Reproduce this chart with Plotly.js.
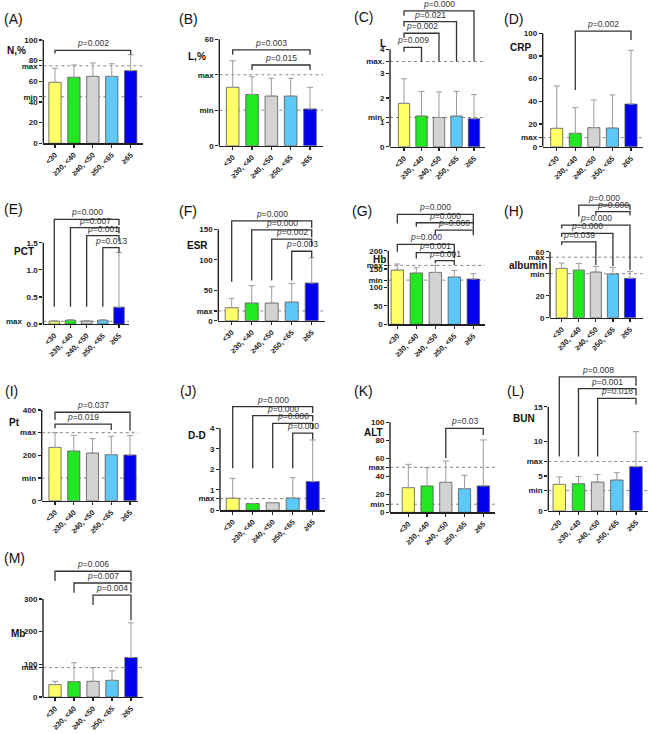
<!DOCTYPE html>
<html><head><meta charset="utf-8">
<script src="https://cdn.plot.ly/plotly-3.0.1.min.js"></script>
<style>html,body{margin:0;padding:0;background:#fff}#chart{width:650px;height:734px}</style>
</head><body><div id="chart"></div>
<script>
const categories = ['<30', '≥30, <40', '≥40, <50', '≥50, <65', '≥65'];
const barColors = ['#FFFF66', '#22E822', '#D3D3D3', '#5EC8F8', '#0000EE'];

// means and upper SD per panel
const meanA = [59, 63.9, 64.8, 64.8, 70.3];  const sdA = [13.6, 11.9, 12.9, 12.2, 15.5];
const meanB = [32.9, 28.9, 28, 28, 20.7];    const sdB = [15, 10, 10, 10, 12.2];
const meanC = [1.78, 1.26, 1.2, 1.26, 1.15]; const sdC = [1.01, 1.01, 1.05, 1.01, 0.99];
const meanD = [16.2, 11.8, 16.8, 16.5, 37.6]; const sdD = [37.3, 22.6, 24.4, 29.1, 47.4];
const meanE = [0.05, 0.07, 0.055, 0.07, 0.31]; const sdE = [0.01, 0.01, 0.01, 0.01, 1.01];
const meanF = [21.3, 29, 29, 30.6, 61.8];    const sdF = [15.4, 28.5, 26.8, 30.2, 41.6];
const meanG = [147.5, 139.4, 141, 128.5, 123]; const sdG = [16.3, 14.4, 19, 18.1, 14.5];
const meanH = [44.8, 43.3, 41.5, 39.7, 35.8]; const sdH = [4.9, 6.1, 5.2, 6.1, 6.3];
const meanI = [235, 219, 210, 203, 201.5];   const sdI = [65, 69, 63.5, 81, 85.5];
const meanJ = [0.59, 0.33, 0.37, 0.6, 1.4];  const sdJ = [0.97, 0.01, 0.01, 0.99, 2.03];
const meanK = [27.4, 29.3, 33.3, 26.3, 29.3]; const sdK = [25.9, 20.3, 23.7, 14.7, 51.1];
const meanL = [3.8, 3.9, 4.13, 4.42, 6.35];  const sdL = [1.06, 1.05, 1.07, 1.06, 5.05];
const meanM = [38, 47, 48, 51, 121];         const sdM = [10, 58, 42, 29, 106];

// reference lines
const refA = [75, 45]; const refB = [40, 20]; const refC = [3.5, 1.2]; const refD = [8];
const refE = [0.05]; const refF = [16]; const refG = [160, 120]; const refH = [55, 40];
const refI = [300, 100]; const refJ = [0.57]; const refK = [50, 9]; const refL = [7.1, 2.9]; const refM = [90];

// y ticks
const tvA = [0, 20, 40, 45, 60, 75, 80, 100]; const ttA = ['0', '20', '40', 'min', '60', 'max', '80', '100'];
const tvB = [0, 20, 40, 60]; const ttB = ['0', 'min', 'max', '60'];
const tvC = [0, 1, 1.2, 2, 3, 3.5, 4]; const ttC = ['0', '1', 'min.', '2', '3', 'max.', '4'];
const tvD = [0, 8, 20, 40, 60, 80, 100]; const ttD = ['0', 'max', '20', '40', '60', '80', '100'];
const tvE = [0, 0.5, 1, 1.5]; const ttE = ['0.0', '0.5', '1.0', '1.5'];
const tvF = [0, 16, 50, 100, 150]; const ttF = ['0', 'max', '50', '100', '150'];
const tvG = [0, 50, 100, 120, 150, 160, 200]; const ttG = ['0', '50', '100', 'min', '150', 'max', '200'];
const tvH = [0, 20, 40, 55, 60]; const ttH = ['0', '20', 'min', 'max', '60'];
const tvI = [0, 100, 200, 300, 400]; const ttI = ['0', 'min', '200', 'max', '400'];
const tvJ = [0, 0.57, 1, 2, 3, 4]; const ttJ = ['0', 'max', '1', '2', '3', '4'];
const tvK = [0, 9, 20, 40, 50, 60, 80, 100]; const ttK = ['0', 'min', '20', '40', 'max', '60', '80', '100'];
const tvL = [0, 2.9, 5, 7.1, 10, 15]; const ttL = ['0', 'min', '5', 'max', '10', '15'];
const tvM = [0, 90, 100, 200, 300]; const ttM = ['0', 'max', '100', '200', '300'];

// significance brackets: [from, to, height, leftLegEnd, rightLegEnd, p]
const brA = [[0, 4, 90, 87, 86, '0.002']];
const brB = [[0, 4, 54, 51.3, 51.3, '0.003'], [1, 4, 45.5, 42.7, 42.7, '0.015']];
const brC = [[0, 4, 5.58, 5.38, 3.5, '0.000'], [0, 3, 5.14, 4.94, 3.5, '0.021'], [0, 2, 4.66, 4.46, 3.5, '0.002'], [0, 1, 4.08, 3.9, 3.5, '0.009']];
const brD = [[1, 4, 102, 50, 94, '0.002']];
const brE = [[0, 4, 1.93, 0.32, 1.82, '0.000'], [1, 4, 1.78, 0.32, 1.67, '0.007'], [2, 4, 1.63, 0.32, 1.52, '0.001'], [3, 4, 1.41, 0.32, 1.32, '0.013']];
const brF = [[0, 4, 163.7, 64, 152, '0.000'], [1, 4, 148.9, 66, 137, '0.000'], [2, 4, 134, 66, 122, '0.002'], [3, 4, 114, 66, 103.4, '0.003']];
const brG = [[0, 4, 298.6, 274, 278, '0.000'], [1, 4, 276, 265, 258, '0.000'], [2, 4, 256, 242, 242, '0.000'], [0, 3, 217, 197, 197, '0.000'], [1, 3, 194.6, 179, 179, '0.001'], [2, 3, 172.9, 166, 161, '0.001']];
const brH = [[1, 4, 102.4, 92, 98, '0.000'], [2, 4, 96.4, 93, 93, '0.000'], [0, 4, 84.2, 81, 43.3, '0.000'], [0, 3, 76.7, 73.5, 47, '0.000'], [0, 2, 69, 66, 48, '0.039']];
const brI = [[0, 4, 390, 356, 309, '0.037'], [0, 3, 338, 319, 312, '0.019']];
const brJ = [[0, 4, 5.06, 2.05, 4.75, '0.000'], [1, 4, 4.62, 2.05, 4.35, '0.000'], [2, 4, 4.24, 2.05, 3.95, '0.000'], [3, 4, 3.76, 2.05, 3.45, '0.000']];
const brK = [[2, 4, 93.3, 60, 85.9, '0.03']];
const brL = [[0, 4, 19.3, 7.8, 18.0, '0.008'], [1, 4, 17.6, 7.8, 16.6, '0.001'], [2, 4, 16.2, 7.8, 15.3, '0.018']];
const brM = [[0, 4, 385, 355, 355, '0.006'], [1, 4, 349, 319, 319, '0.007'], [2, 4, 312, 282, 235, '0.004']];

const panelLetters = ['A', 'B', 'C', 'D', 'E', 'F', 'G', 'H', 'I', 'J', 'K', 'L', 'M'];
const yTitles = ['N,%', 'L,%', 'L', 'CRP', 'PCT', 'ESR', 'Hb', 'albumin', 'Pt', 'D-D', 'ALT', 'BUN', 'Mb'];
const axisTops = [100, 60, 4, 100, 1.5, 150, 200, 60, 400, 4, 100, 15, 300];
const means = [meanA, meanB, meanC, meanD, meanE, meanF, meanG, meanH, meanI, meanJ, meanK, meanL, meanM];
const sds = [sdA, sdB, sdC, sdD, sdE, sdF, sdG, sdH, sdI, sdJ, sdK, sdL, sdM];
const refs = [refA, refB, refC, refD, refE, refF, refG, refH, refI, refJ, refK, refL, refM];
const tvs = [tvA, tvB, tvC, tvD, tvE, tvF, tvG, tvH, tvI, tvJ, tvK, tvL, tvM];
const tts = [ttA, ttB, ttC, ttD, ttE, ttF, ttG, ttH, ttI, ttJ, ttK, ttL, ttM];
const brs = [brA, brB, brC, brD, brE, brF, brG, brH, brI, brJ, brK, brL, brM];

// layout geometry (pixels): y-axis x, first bar center, last bar center, x-axis end, y of 0, y of axis top
const geo = [
  [43.3, 55, 130.7, 143, 143.3, 40],
  [219.3, 232.7, 310, 323, 145.7, 39.3],
  [390, 404, 474, 485, 146.7, 49.3],
  [542.7, 556.7, 631, 643, 146.7, 33.3],
  [43.3, 54.3, 119, 129, 324, 242.7],
  [218.3, 231.7, 311.7, 325, 320.7, 229.3],
  [388.3, 397.3, 473.3, 485, 324.3, 250.7],
  [550, 561.7, 630, 642.7, 317.7, 251.7],
  [41.7, 55, 130, 138.3, 500.7, 410],
  [220, 232.7, 312.7, 325, 510.3, 428.3],
  [390, 408.3, 483.3, 495, 512.3, 422.3],
  [548.3, 559.3, 636, 648, 510.7, 406.7],
  [43, 55, 131, 143, 697, 599]
];
const letterPos = [[2, 19], [177, 19], [352, 17], [502, 19], [2, 209], [177, 211], [350, 211], [502, 211], [3, 391], [178, 391], [352, 391], [505, 391], [2, 558]];
const titlePos = [[16, 51], [197.5, 57], [383, 43], [520, 47], [23.5, 252], [197.5, 245], [379, 259], [527.5, 265], [14, 422], [197, 435], [373, 432], [524, 418], [18, 633]];

const W = 650, H = 734;
const FONT = 'Liberation Sans, Arial, sans-serif';
const data = [], shapes = [], annotations = [];
const layout = {
  width: W, height: H, margin: {l: 0, r: 0, t: 0, b: 0},
  paper_bgcolor: '#fff', plot_bgcolor: 'rgba(0,0,0,0)', showlegend: false,
  font: {family: FONT, color: '#222'}, bargap: 0
};
const idx = categories.map((c, i) => i);

panelLetters.forEach((L, k) => {
  const n = k + 1, sfx = n === 1 ? '' : String(n);
  const xa = 'x' + sfx, ya = 'y' + sfx;
  const [xL, c1, c5, xR, y0, yT] = geo[k];
  const sp = (c5 - c1) / 4;
  const top = axisTops[k];
  const maxH = Math.max(top, ...brs[k].map(b => b[2]));
  const rTop = maxH + top * 0.03;
  const ppu = (y0 - yT) / top;
  const yTopPx = y0 - rTop * ppu;
  layout['xaxis' + sfx] = {
    domain: [xL / W, xR / W], range: [-(c1 - xL) / sp, 4 + (xR - c5) / sp], anchor: ya,
    tickmode: 'array', tickvals: idx, ticktext: categories, tickangle: -45,
    tickfont: {size: 7.5, family: FONT, color: '#222', weight: 'bold'},
    showline: true, linecolor: '#222', linewidth: 1.4, ticks: 'outside', ticklen: 3, tickwidth: 1.2, tickcolor: '#222',
    showgrid: false, zeroline: false, fixedrange: true
  };
  layout['yaxis' + sfx] = {
    domain: [1 - y0 / H, 1 - yTopPx / H], range: [0, rTop], anchor: xa,
    tickmode: 'array', tickvals: tvs[k], ticktext: tts[k],
    tickfont: {size: 8, family: FONT, color: '#222', weight: 'bold'},
    showline: false, ticks: 'outside', ticklen: 3, tickwidth: 1.2, tickcolor: '#222',
    showgrid: false, zeroline: false, fixedrange: true
  };
  data.push({
    type: 'bar', x: idx, y: means[k], xaxis: xa, yaxis: ya, width: 0.65,
    marker: {color: barColors, line: {color: '#555', width: 0.8}},
    error_y: {type: 'data', symmetric: false, array: sds[k], arrayminus: sds[k].map(() => 0), color: '#9a9a9a', thickness: 1, width: 3},
    hoverinfo: 'skip'
  });
  shapes.push({type: 'line', xref: xa + ' domain', yref: ya, x0: 0, x1: 0, y0: 0, y1: top, line: {color: '#222', width: 1.4}, layer: 'above'});
  refs[k].forEach(v => shapes.push({type: 'line', xref: xa + ' domain', yref: ya, x0: 0, x1: 1, y0: v, y1: v, line: {color: '#888', width: 1, dash: 'dot'}, layer: 'below'}));
  brs[k].forEach(b => {
    const [i, j, h, lL, lR, p] = b;
    shapes.push({type: 'path', xref: xa, yref: ya, path: `M ${i},${lL} L ${i},${h} L ${j},${h} L ${j},${lR}`, line: {color: '#333', width: 1.3}});
    annotations.push({xref: xa, yref: ya, x: (i + j) / 2, y: h, yanchor: 'bottom', yshift: 0, showarrow: false,
      text: `<i>p</i>=${p}`, font: {size: 8.5, family: FONT, color: '#333'}});
  });
  annotations.push({xref: 'paper', yref: 'paper', x: letterPos[k][0] / W, y: 1 - letterPos[k][1] / H, xanchor: 'left', yanchor: 'middle',
    showarrow: false, text: '(' + L + ')', font: {size: 14, family: FONT, color: '#111'}});
  annotations.push({xref: 'paper', yref: 'paper', x: titlePos[k][0] / W, y: 1 - titlePos[k][1] / H, xanchor: 'center', yanchor: 'middle',
    showarrow: false, text: yTitles[k], font: {size: 10, family: FONT, color: '#111', weight: 'bold'}});
});
annotations.push({xref: 'x5 domain', yref: 'y5', x: 0, y: refE[0], xanchor: 'right', yanchor: 'middle', xshift: -18, showarrow: false,
  text: 'max', font: {size: 8, family: FONT, color: '#222', weight: 'bold'}});

layout.shapes = shapes;
layout.annotations = annotations;
Plotly.newPlot('chart', data, layout, {staticPlot: true, displayModeBar: false});
</script>
</body></html>
